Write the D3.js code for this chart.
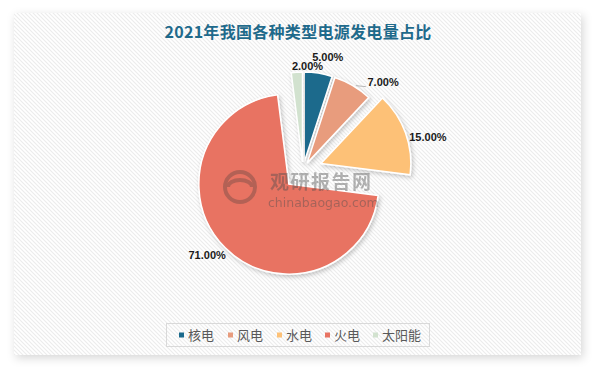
<!DOCTYPE html>
<html>
<head>
<meta charset="utf-8">
<script src="https://cdn.jsdelivr.net/npm/d3@7"></script>
<style>
  html, body { margin: 0; padding: 0; background: #ffffff; }
  svg { display: block; }
</style>
</head>
<body>
<div id="chart"></div>
<script>
// chart data
var categories = ["核电", "风电", "水电", "火电", "太阳能"];
var shares = [5, 7, 15, 71, 2];
var colors = ["#1b6a8c", "#e89c7d", "#fdc177", "#e87362", "#d2e2cf"];
var titleText = "2021年我国各种类型电源发电量占比";

function init() {
    var w = 593, h = 367;

    var svg = d3.select("#chart").append("svg")
        .attr("width", w)
        .attr("height", h);

    var defs = svg.append("defs");

    // diagonal hatching for the panel
    var pat = defs.append("pattern")
        .attr("id", "hatch")
        .attr("patternUnits", "userSpaceOnUse")
        .attr("width", 4).attr("height", 4);
    pat.append("rect").attr("width", 4).attr("height", 4).attr("fill", "#ffffff");
    pat.append("path")
        .attr("d", "M-1,-1 L5,5 M-1,3 L1,5 M3,-1 L5,1")
        .attr("stroke", "#ececec")
        .attr("stroke-width", 1.1);

    var shadow = defs.append("filter").attr("id", "panelShadow")
        .attr("x", "-10%").attr("y", "-10%").attr("width", "120%").attr("height", "120%");
    shadow.append("feDropShadow")
        .attr("dx", 2).attr("dy", 3).attr("stdDeviation", 5)
        .attr("flood-color", "#000").attr("flood-opacity", 0.16);

    var sliceShadow = defs.append("filter").attr("id", "sliceShadow")
        .attr("x", "-20%").attr("y", "-20%").attr("width", "140%").attr("height", "140%");
    sliceShadow.append("feDropShadow")
        .attr("dx", 1.5).attr("dy", 2).attr("stdDeviation", 2)
        .attr("flood-color", "#000").attr("flood-opacity", 0.22);

    // panel
    svg.append("rect")
        .attr("x", 14).attr("y", 13)
        .attr("width", 567).attr("height", 342)
        .attr("fill", "url(#hatch)")
        .attr("filter", "url(#panelShadow)");

    // title
    svg.append("text")
        .attr("x", 298).attr("y", 38)
        .attr("text-anchor", "middle")
        .attr("font-family", "'Noto Sans CJK SC', sans-serif")
        .attr("font-weight", "bold")
        .attr("font-size", 16)
        .attr("letter-spacing", 0.3)
        .attr("fill", "#1f6a8b")
        .text(titleText);

    // pie layout (each slice pulled out by its own amount)
    var cx = 303, cy = 170, radius = 90;
    var explode = [8, 8, 19, 20, 8];

    var pie = d3.pie().sort(null).startAngle(0).endAngle(2 * Math.PI);
    var arcs = pie(shares);

    var arc = d3.arc().innerRadius(0).outerRadius(radius);

    function dir(d) {
        var mid = (d.startAngle + d.endAngle) / 2;
        return [Math.sin(mid), -Math.cos(mid)];
    }

    var g = svg.append("g").attr("transform", "translate(" + cx + "," + cy + ")");

    g.selectAll(".slice")
        .data(arcs)
        .enter().append("path")
        .attr("class", "slice")
        .attr("d", arc)
        .attr("transform", function (d, i) {
            var v = dir(d);
            return "translate(" + (v[0] * explode[i]) + "," + (v[1] * explode[i]) + ")";
        })
        .attr("fill", function (d, i) { return colors[i]; })
        .attr("stroke", "#ffffff")
        .attr("stroke-width", 1.5)
        .attr("filter", "url(#sliceShadow)");

    // watermark
    var wm = svg.append("g").attr("opacity", 0.42);
    wm.append("circle").attr("cx", 240).attr("cy", 187).attr("r", 15)
        .attr("fill", "none").attr("stroke", "#6b4a44").attr("stroke-width", 4);
    wm.append("path").attr("d", "M228,187 a12,7 0 0 1 24,0")
        .attr("fill", "none").attr("stroke", "#6b4a44").attr("stroke-width", 4);
    wm.append("text")
        .attr("x", 270).attr("y", 189)
        .attr("font-family", "'Noto Sans CJK SC', sans-serif")
        .attr("font-weight", "bold")
        .attr("font-size", 19)
        .attr("letter-spacing", 1.5)
        .attr("fill", "#4d4d4d")
        .text("观研报告网");
    wm.append("text")
        .attr("x", 268).attr("y", 207)
        .attr("font-family", "'DejaVu Sans', sans-serif")
        .attr("font-size", 12.5)
        .attr("fill", "#4d4d4d")
        .text("chinabaogao.com");

    // data labels: placed outward along mid angle, with a small nudge each
    var labelR = 120;
    var nudge = [[6, 6], [19, 15], [12, 8], [-11, 0], [12, 16]];

    g.selectAll(".label")
        .data(arcs)
        .enter().append("text")
        .attr("class", "label")
        .attr("x", function (d, i) { return dir(d)[0] * labelR + nudge[i][0]; })
        .attr("y", function (d, i) { return dir(d)[1] * labelR + nudge[i][1]; })
        .attr("dy", "0.35em")
        .attr("text-anchor", "middle")
        .attr("font-family", "'Liberation Sans', Arial, sans-serif")
        .attr("font-weight", "bold")
        .attr("font-size", 11)
        .attr("fill", "#1a1a1a")
        .text(function (d) { return d3.format(".2f")(d.data) + "%"; });

    // short leader line for the 风电 label
    var lv = dir(arcs[1]);
    var lx = lv[0] * (radius + explode[1]), ly = lv[1] * (radius + explode[1]);
    g.append("path")
        .attr("d", "M" + (lx + 3) + "," + ly + " L" + (lx + 13) + "," + (ly + 1))
        .attr("stroke", "#a6a6a6")
        .attr("stroke-width", 0.8)
        .attr("fill", "none");

    // legend
    var legend = svg.append("g");
    legend.append("rect")
        .attr("x", 166.5).attr("y", 323.5)
        .attr("width", 263).attr("height", 23)
        .attr("fill", "none")
        .attr("stroke", "#d9d9d9");

    var itemX = [179, 228, 277, 325, 373];
    var items = legend.selectAll(".item")
        .data(categories)
        .enter().append("g")
        .attr("class", "item")
        .attr("transform", function (d, i) { return "translate(" + itemX[i] + ",335)"; });

    items.append("rect")
        .attr("x", 0).attr("y", -2.5)
        .attr("width", 5).attr("height", 5)
        .attr("fill", function (d, i) { return colors[i]; });

    items.append("text")
        .attr("x", 9).attr("y", 0)
        .attr("dy", "0.35em")
        .attr("font-family", "'Noto Sans CJK SC', sans-serif")
        .attr("font-size", 13)
        .attr("fill", "#595959")
        .text(function (d) { return d; });
}

window.onload = init;
</script>
</body>
</html>
